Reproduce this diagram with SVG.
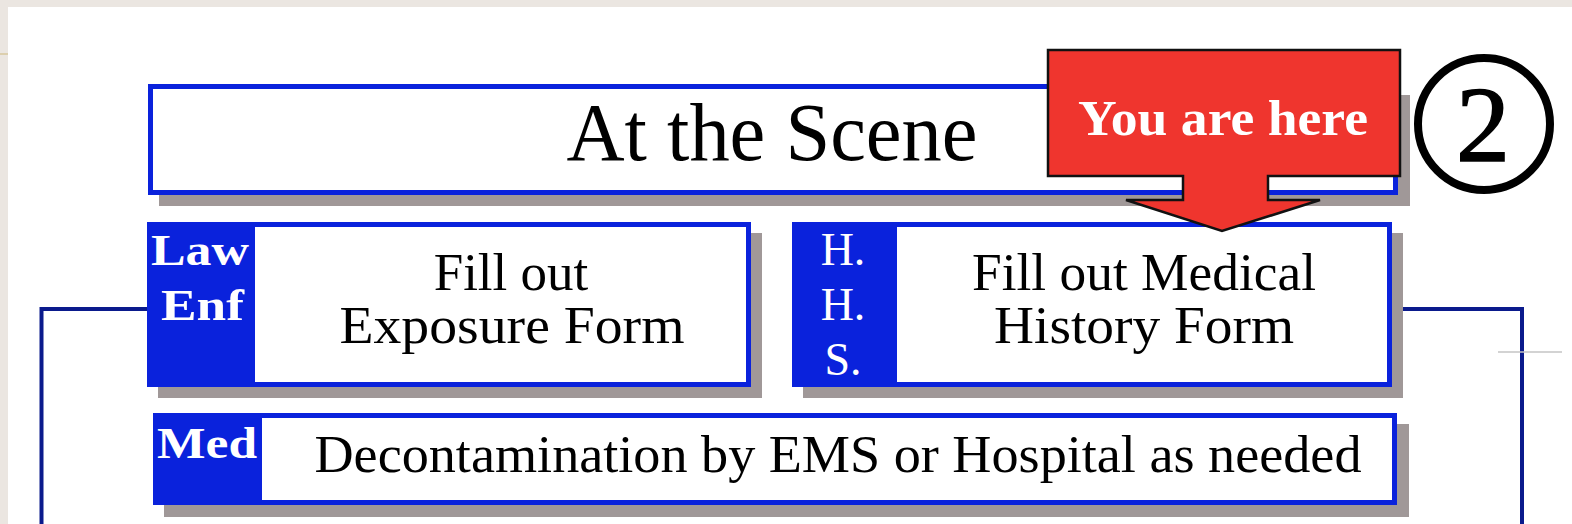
<svg xmlns="http://www.w3.org/2000/svg" width="1572" height="524" viewBox="0 0 1572 524">
<style>
.shadow{fill:#a09898}
.box{fill:#ffffff;stroke:#0a22dc;stroke-width:5}
.lab{fill:#0a22dc}
.conn{fill:none;stroke:#0a1a8c;stroke-width:4}
.t{font-family:"Liberation Serif","Times New Roman",serif;fill:#000;font-size:53px;text-anchor:middle}
.title{font-family:"Liberation Serif","Times New Roman",serif;fill:#000;font-size:82px;text-anchor:middle}
.lt{font-family:"Liberation Serif","Times New Roman",serif;fill:#fff;font-weight:bold;font-size:44px}
.ht{font-family:"Liberation Serif","Times New Roman",serif;fill:#fff;font-size:46px;text-anchor:middle}
</style>
<rect x="0" y="0" width="1572" height="524" fill="#ffffff"/>
<rect x="0" y="0" width="1572" height="7" fill="#ebe6e1"/>
<rect x="0" y="0" width="8" height="524" fill="#ebe6e1"/>
<rect x="0" y="53" width="8" height="2" fill="#dccfae"/>

<g id="connectors">
<path class="conn" d="M147,309 H41.5 V524"/>
<path class="conn" d="M1392,309 H1522 V524"/>
<line x1="1498" y1="352" x2="1562" y2="352" stroke="#c4c4c4" stroke-width="1.5"/>
</g>

<g id="scene">
<rect class="shadow" x="159" y="95" width="1251" height="111"/>
<rect class="box" x="150.5" y="86.5" width="1245" height="106"/>
<text class="title" x="772" y="160" textLength="411" lengthAdjust="spacingAndGlyphs">At the Scene</text>
</g>

<g id="law">
<rect class="shadow" x="158" y="233" width="604" height="165"/>
<rect class="box" x="149.5" y="224.5" width="599" height="160"/>
<rect class="lab" x="147" y="222" width="108" height="165"/>
<text class="lt" x="151" y="265" textLength="98" lengthAdjust="spacingAndGlyphs">Law</text>
<text class="lt" x="161" y="320" textLength="83" lengthAdjust="spacingAndGlyphs">Enf</text>
<text class="t" x="511" y="290">Fill out</text>
<text class="t" x="512" y="343" textLength="345" lengthAdjust="spacingAndGlyphs">Exposure Form</text>
</g>

<g id="hhs">
<rect class="shadow" x="803" y="233" width="600" height="165"/>
<rect class="box" x="794.5" y="224.5" width="595" height="160"/>
<rect class="lab" x="792" y="222" width="105" height="165"/>
<text class="ht" x="843" y="265">H.</text>
<text class="ht" x="843" y="320">H.</text>
<text class="ht" x="843" y="375">S.</text>
<text class="t" x="1144" y="290" textLength="344" lengthAdjust="spacingAndGlyphs">Fill out Medical</text>
<text class="t" x="1144" y="343" textLength="300" lengthAdjust="spacingAndGlyphs">History Form</text>
</g>

<g id="med">
<rect class="shadow" x="164" y="424" width="1245" height="93"/>
<rect class="box" x="155.5" y="415.5" width="1239" height="87"/>
<rect class="lab" x="153" y="413" width="109" height="92"/>
<text class="lt" x="157" y="458" textLength="100" lengthAdjust="spacingAndGlyphs">Med</text>
<text class="t" x="838" y="472" font-size="55" textLength="1047" lengthAdjust="spacingAndGlyphs">Decontamination by EMS or Hospital as needed</text>
</g>

<g id="you-are-here">
<path d="M1048,50 H1400 V176 H1268 V200 H1320 L1222,231 L1126,200 H1183 V176 H1048 Z" fill="#ef352e" stroke="#111" stroke-width="2.5" stroke-linejoin="miter"/>
<text x="1223" y="135" font-family="'Liberation Serif','Times New Roman',serif" font-weight="bold" font-size="50" fill="#fff" text-anchor="middle" textLength="290" lengthAdjust="spacingAndGlyphs">You are here</text>
</g>

<g id="step-number">
<circle cx="1484" cy="124" r="66" fill="none" stroke="#000" stroke-width="8"/>
<text x="1483" y="161" font-family="'Liberation Serif','Times New Roman',serif" font-size="108" fill="#000" stroke="#000" stroke-width="1.5" text-anchor="middle">2</text>
</g>
</svg>
